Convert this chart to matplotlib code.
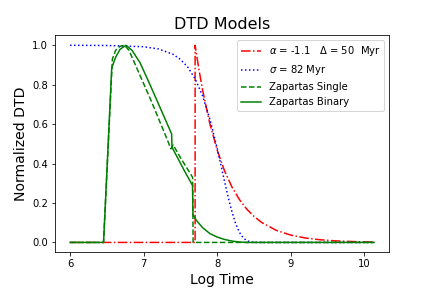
import matplotlib
matplotlib.use("Agg")
import matplotlib.pyplot as plt

# power law DTD, alpha = -1.1, delay 50 Myr
pl_logt = [6.0, 7.699, 7.699, 7.75, 7.8, 7.9, 8.0, 8.1, 8.2, 8.3, 8.4, 8.5, 8.6,
           8.8, 9.0, 9.2, 9.4, 9.6, 9.8, 10.0, 10.13]
pl_dtd = [0.0, 0.0, 1.0, 0.879, 0.774, 0.601, 0.467, 0.362, 0.281, 0.218, 0.169,
          0.132, 0.102, 0.0615, 0.037, 0.0223, 0.0135, 0.0081, 0.0049, 0.0029, 0.0021]

# gaussian DTD, sigma = 82 Myr
gs_logt = [6.0, 6.5, 7.0, 7.2, 7.4, 7.5, 7.6, 7.7, 7.8, 7.9, 8.0, 8.05, 8.1, 8.15,
           8.2, 8.25, 8.3, 8.35, 8.4, 8.45, 8.5, 8.6, 10.13]
gs_dtd = [1.0, 0.999, 0.9926, 0.9815, 0.9542, 0.9283, 0.8888, 0.8296, 0.7437, 0.6255,
          0.4754, 0.3922, 0.3077, 0.2268, 0.1544, 0.0953, 0.0519, 0.0241, 0.0092,
          0.0027, 0.0006, 0.0, 0.0]

# Zapartas single stars
zs_logt = [6.0, 6.455, 6.575, 6.62, 6.68, 6.74, 6.8, 6.9, 7.0, 7.1, 7.2, 7.3, 7.37,
           7.40, 7.5, 7.6, 7.665, 7.672, 10.13]
zs_dtd = [0.0, 0.0, 0.93, 0.975, 0.995, 1.0, 0.975, 0.89, 0.805, 0.72, 0.63, 0.54,
          0.475, 0.495, 0.43, 0.37, 0.33, 0.0, 0.0]

# Zapartas binaries
zb_logt = [6.0, 6.455, 6.566, 6.62, 6.68, 6.76, 6.84, 6.95, 7.05, 7.13, 7.25, 7.38,
           7.385, 7.45, 7.55, 7.664, 7.67, 7.72, 7.8, 7.9, 8.0, 8.1, 8.2, 8.3,
           8.4, 10.13]
zb_dtd = [0.0, 0.0, 0.885, 0.94, 0.98, 1.0, 0.975, 0.912, 0.83, 0.763, 0.661, 0.55,
          0.483, 0.437, 0.366, 0.289, 0.14, 0.11, 0.075, 0.045, 0.027, 0.015, 0.007,
          0.002, 0.0, 0.0]

fig, ax = plt.subplots(figsize=(6, 4), dpi=72)
fig.subplots_adjust(left=0.127, right=0.901, top=0.877, bottom=0.124)

ax.plot(pl_logt, pl_dtd, 'r-.', label=r'$\alpha$ = -1.1   $\Delta$ = 50  Myr')
ax.plot(gs_logt, gs_dtd, 'b:', label=r'$\sigma$ = 82 Myr')
ax.plot(zs_logt, zs_dtd, 'g--', label='Zapartas Single')
ax.plot(zb_logt, zb_dtd, 'g-', label='Zapartas Binary')

ax.set_title('DTD Models', fontsize=16)
ax.set_xlabel('Log Time', fontsize=14)
ax.set_ylabel('Normalized DTD', fontsize=14)
ax.legend(loc='upper right')

fig.savefig('out.png', dpi=72)
